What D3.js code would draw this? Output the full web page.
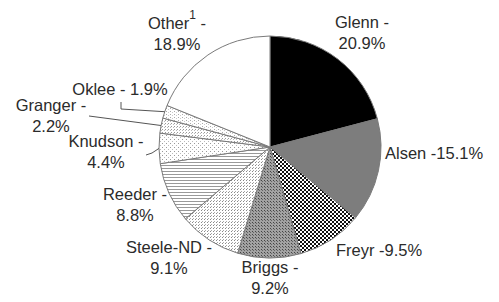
<!DOCTYPE html>
<html><head><meta charset="utf-8">
<script src="https://cdn.jsdelivr.net/npm/d3@7"></script>
<style>
html,body{margin:0;padding:0;background:#fff;}
text{font-family:"Liberation Sans",Arial,sans-serif;font-size:16.5px;fill:#2b2b2b;}
</style></head>
<body>
<svg id="chart" width="499" height="302"></svg>
<script>
// data
const categories = ["Glenn","Alsen","Freyr","Briggs","Steele-ND","Reeder","Knudson","Granger","Oklee","Other"];
const shares = [20.9, 15.1, 9.5, 9.2, 9.1, 8.8, 4.4, 2.2, 1.9, 18.9];
const labelLines = [
  ["Glenn -","20.9%"],
  ["Alsen -15.1%"],
  ["Freyr -9.5%"],
  ["Briggs -","9.2%"],
  ["Steele-ND -","9.1%"],
  ["Reeder -","8.8%"],
  ["Knudson -","4.4%"],
  ["Granger -","2.2%"],
  ["Oklee - 1.9%"],
  ["Other|1| -","18.9%"]
];

// layout (not data)
const cx = 270, cy = 147, R = 111;
const labelLayout = {
  "Glenn":    {x:362, y:28, anchor:"middle"},
  "Alsen":    {x:385, y:159, anchor:"start"},
  "Freyr":    {x:336, y:256, anchor:"start"},
  "Briggs":   {x:270, y:273, anchor:"middle"},
  "Steele-ND":{x:169, y:253, anchor:"middle"},
  "Reeder":   {x:135, y:200, anchor:"middle"},
  "Knudson":  {x:106, y:147, anchor:"middle"},
  "Granger":  {x:51,  y:111, anchor:"middle"},
  "Oklee":    {x:120, y:95,  anchor:"middle"},
  "Other":    {x:177, y:29,  anchor:"middle"}
};
const lineGap = 21;

const svg = d3.select("#chart");
const defs = svg.append("defs");

function pat(id, w, h, bg, rects){
  const p = defs.append("pattern").attr("id", id).attr("patternUnits","userSpaceOnUse")
    .attr("width", w).attr("height", h);
  p.append("rect").attr("width", w).attr("height", h).attr("fill", bg);
  rects.forEach(r => p.append("rect").attr("x", r[0]).attr("y", r[1]).attr("width", r[2]).attr("height", r[3]).attr("fill", r[4]));
}
pat("pFreyr", 4, 4, "#fff", [[0,0,2,2,"#111"],[2,2,2,2,"#111"]]);
pat("pBriggs", 3, 3, "#a2a2a2", [[0,0,1,1,"#444"],[1,1,1,1,"#666"]]);
pat("pSteele", 3, 3, "#fff", [[0,0,1,1,"#888"],[1,2,1,1,"#aaa"]]);
pat("pReeder", 4, 3, "#fff", [[0,0,4,1,"#999"]]);
pat("pKnudson", 4, 4, "#fff", [[0,0,1,1,"#999"],[2,2,1,1,"#bbb"]]);
pat("pGranger", 3, 3, "#fff", [[0,0,1,1,"#999"],[2,1,1,1,"#bbb"]]);
pat("pOklee", 4, 3, "#fff", [[0,0,1,1,"#aaa"],[2,1,1,1,"#ccc"]]);

const fills = {
  "Glenn":"#000", "Alsen":"#7d7d7d", "Freyr":"url(#pFreyr)", "Briggs":"url(#pBriggs)",
  "Steele-ND":"url(#pSteele)", "Reeder":"url(#pReeder)", "Knudson":"url(#pKnudson)",
  "Granger":"url(#pGranger)", "Oklee":"url(#pOklee)", "Other":"#fff"
};

const data = categories.map((c,i)=>({name:c, value:shares[i], lines:labelLines[i]}));
const pie = d3.pie().value(d=>d.value).sort(null);
const arc = d3.arc().innerRadius(0).outerRadius(R);
const arcs = pie(data);

const g = svg.append("g").attr("transform", `translate(${cx},${cy})`);
g.selectAll("path").data(arcs).join("path")
  .attr("d", arc)
  .attr("fill", d=>fills[d.data.name])
  .attr("stroke", "#7a7a7a").attr("stroke-width", 1);

// leader lines for small slices
const edgeArc = d3.arc().innerRadius(R).outerRadius(R);
function edgePt(name){
  const a = arcs.find(d=>d.data.name===name);
  const c = edgeArc.centroid(a);
  return [c[0]+cx, c[1]+cy];
}
const leaders = [
  {name:"Oklee", pts:[[121,102],[121,109]]},
  {name:"Granger", pts:[[89,116]]},
  {name:"Knudson", pts:[[146,155],[152,153]]}
];
leaders.forEach(l=>{
  const pts = l.pts.concat([edgePt(l.name)]);
  svg.append("path").attr("d", d3.line()(pts)).attr("fill","none")
    .attr("stroke","#555").attr("stroke-width",1);
});

// labels
data.forEach(d=>{
  const L = labelLayout[d.name];
  const t = svg.append("text").attr("text-anchor", L.anchor);
  d.lines.forEach((ln,i)=>{
    const ts = t.append("tspan").attr("x", L.x).attr("y", L.y + i*lineGap);
    if(ln.includes("|")){
      const parts = ln.split("|");
      ts.text(parts[0]);
      t.append("tspan").attr("dy", -10).attr("font-size","12px").text(parts[1]);
      t.append("tspan").attr("dy", 10).text(parts[2]);
    } else ts.text(ln);
  });
});
</script>
</body></html>
